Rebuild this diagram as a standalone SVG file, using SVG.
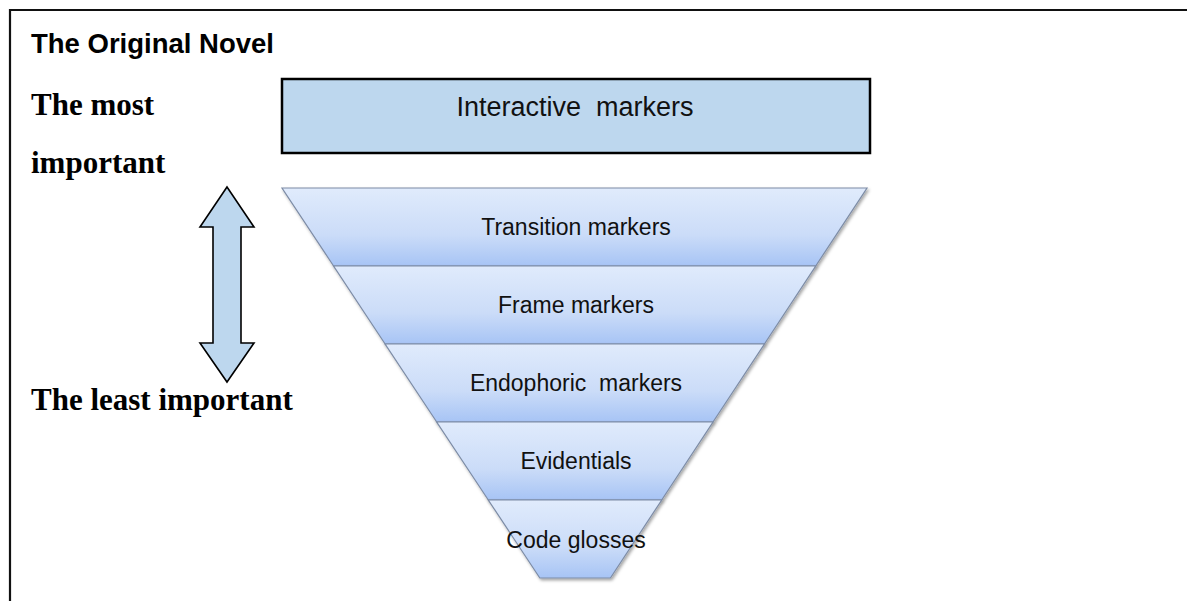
<svg xmlns="http://www.w3.org/2000/svg" width="1187" height="601" viewBox="0 0 1187 601">
  <style>
    .title { font-family: "Liberation Sans", Arial, sans-serif; font-weight: bold; font-size: 27.5px; fill: #000; }
    .serif { font-family: "Liberation Serif", "Times New Roman", serif; font-weight: bold; font-size: 31px; fill: #000; }
    .lbl { font-family: "Liberation Sans", Arial, sans-serif; font-size: 23px; fill: #111; text-anchor: middle; }
    .lblbig { font-family: "Liberation Sans", Arial, sans-serif; font-size: 27px; fill: #111; text-anchor: middle; }
    .tier { fill: url(#tierGrad); stroke: #7d8ca6; stroke-width: 1.2; filter: url(#shadow); }
    .box { fill: #bdd7ee; stroke: #000; stroke-width: 2.5; }
    .arrow { fill: #bdd7ee; stroke: #000; stroke-width: 1.6; stroke-linejoin: miter; }
    .frame { stroke: #111; stroke-width: 2.2; fill: none; }
  </style>
  <defs>
    <linearGradient id="tierGrad" x1="0" y1="0" x2="0" y2="1">
      <stop offset="0" stop-color="#e0ebfc"/>
      <stop offset="0.6" stop-color="#cbdcf8"/>
      <stop offset="1" stop-color="#a7c4f5"/>
    </linearGradient>
    <filter id="shadow" x="-10%" y="-10%" width="120%" height="130%">
      <feDropShadow dx="1.5" dy="2" stdDeviation="1.5" flood-color="#000" flood-opacity="0.35"/>
    </filter>
  </defs>
  <rect x="0" y="0" width="1187" height="601" fill="#fff"/>
  <g id="frame">
    <line class="frame" x1="10" y1="10" x2="1187" y2="10"/>
    <line class="frame" x1="10" y1="9" x2="10" y2="601"/>
  </g>
  <g id="title"><text class="title" x="31" y="52.5">The Original Novel</text></g>
  <g id="most-important">
    <text class="serif" x="31" y="115">The most</text>
    <text class="serif" x="31" y="173">important</text>
  </g>
  <g id="least-important"><text class="serif" x="31" y="410">The least important</text></g>
  <g id="interactive-markers">
    <rect class="box" x="282" y="79" width="588" height="74"/>
    <text class="lblbig" x="575" y="116" xml:space="preserve">Interactive  markers</text>
  </g>
  <g id="transition-markers">
    <polygon class="tier" points="282,188 867,188 815.7,266 333.6,266"/>
    <text class="lbl" x="576" y="235">Transition markers</text>
  </g>
  <g id="frame-markers">
    <polygon class="tier" points="333.6,266 815.7,266 764.4,344 385.1,344"/>
    <text class="lbl" x="576" y="313">Frame markers</text>
  </g>
  <g id="endophoric-markers">
    <polygon class="tier" points="385.1,344 764.4,344 713,422 436.7,422"/>
    <text class="lbl" x="576" y="391" xml:space="preserve">Endophoric  markers</text>
  </g>
  <g id="evidentials">
    <polygon class="tier" points="436.7,422 713,422 661.7,500 488.3,500"/>
    <text class="lbl" x="576" y="469">Evidentials</text>
  </g>
  <g id="code-glosses">
    <polygon class="tier" points="488.3,500 661.7,500 610.4,578 539.8,578"/>
    <text class="lbl" x="576" y="548">Code glosses</text>
  </g>
  <g id="connectors">
    <polygon class="arrow" points="227,187 254,227 241,227 241,343 254,343 227,382 200,343 213,343 213,227 200,227"/>
  </g>
</svg>
